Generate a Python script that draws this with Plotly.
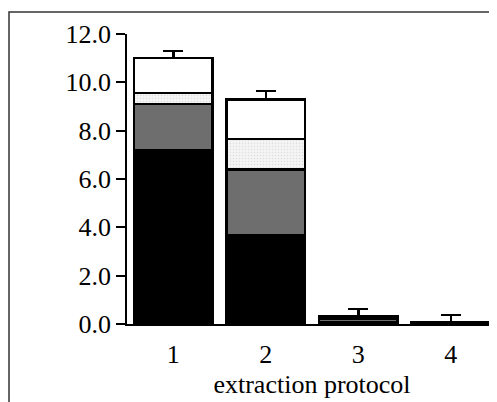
import plotly.graph_objects as go

categories = ["1", "2", "3", "4"]
black_vals = [7.2, 3.68, 0.07, 0.02]
gray_vals = [1.9, 2.72, 0.15, 0.02]
dotted_vals = [0.45, 1.25, 0.04, 0.01]
white_vals = [1.45, 1.65, 0.05, 0.02]
err_up = [0.3, 0.34, 0.32, 0.31]
y_ticks = [0, 2, 4, 6, 8, 10, 12]
y_tick_labels = ["0.0", "2.0", "4.0", "6.0", "8.0", "10.0", "12.0"]

FONT = "Liberation Serif, Times New Roman, serif"
LW = 2.5

fig = go.Figure()
fig.add_trace(go.Bar(x=categories, y=black_vals, marker=dict(color="#000000", line=dict(color="#000000", width=LW))))
fig.add_trace(go.Bar(x=categories, y=gray_vals, marker=dict(color="#6e6e6e", line=dict(color="#000000", width=LW))))
fig.add_trace(go.Bar(x=categories, y=dotted_vals,
                     marker=dict(color="#f4f4f4", line=dict(color="#000000", width=LW),
                                 pattern=dict(shape=".", fgcolor="#c8c8c8", size=3, solidity=0.2))))
fig.add_trace(go.Bar(x=categories, y=white_vals, marker=dict(color="#ffffff", line=dict(color="#000000", width=LW)),
                     error_y=dict(type="data", symmetric=False, array=err_up, arrayminus=[0, 0, 0, 0],
                                  color="#000000", thickness=2.5, width=10)))

fig.update_layout(
    barmode="stack",
    bargap=0.15,
    width=489, height=394,
    margin=dict(l=119, r=0, t=26, b=78),
    plot_bgcolor="white", paper_bgcolor="white",
    showlegend=False,
    font=dict(family=FONT, size=26, color="#000000"),
    xaxis=dict(range=[-0.5, 3.5], showline=True, linecolor="#000000", linewidth=1.5,
               ticks="outside", ticklen=6, tickcolor="rgba(0,0,0,0)", showgrid=False, zeroline=False,
               title=dict(text="extraction protocol", standoff=7, font=dict(family=FONT, size=26))),
    yaxis=dict(range=[0, 12], tickvals=y_ticks, ticktext=y_tick_labels, showline=True,
               linecolor="#000000", linewidth=1.5, ticks="outside", ticklen=9, tickwidth=1.5,
               tickcolor="#000000", showgrid=False, zeroline=False),
    shapes=[dict(type="rect", xref="paper", yref="paper",
                 x0=(1 - 119) / 370, x1=1.5, y0=-0.6, y1=(316 - 4) / 290,
                 line=dict(color="#333333", width=1.5), fillcolor="rgba(0,0,0,0)", layer="below")],
)

fig.write_html("out.html")
